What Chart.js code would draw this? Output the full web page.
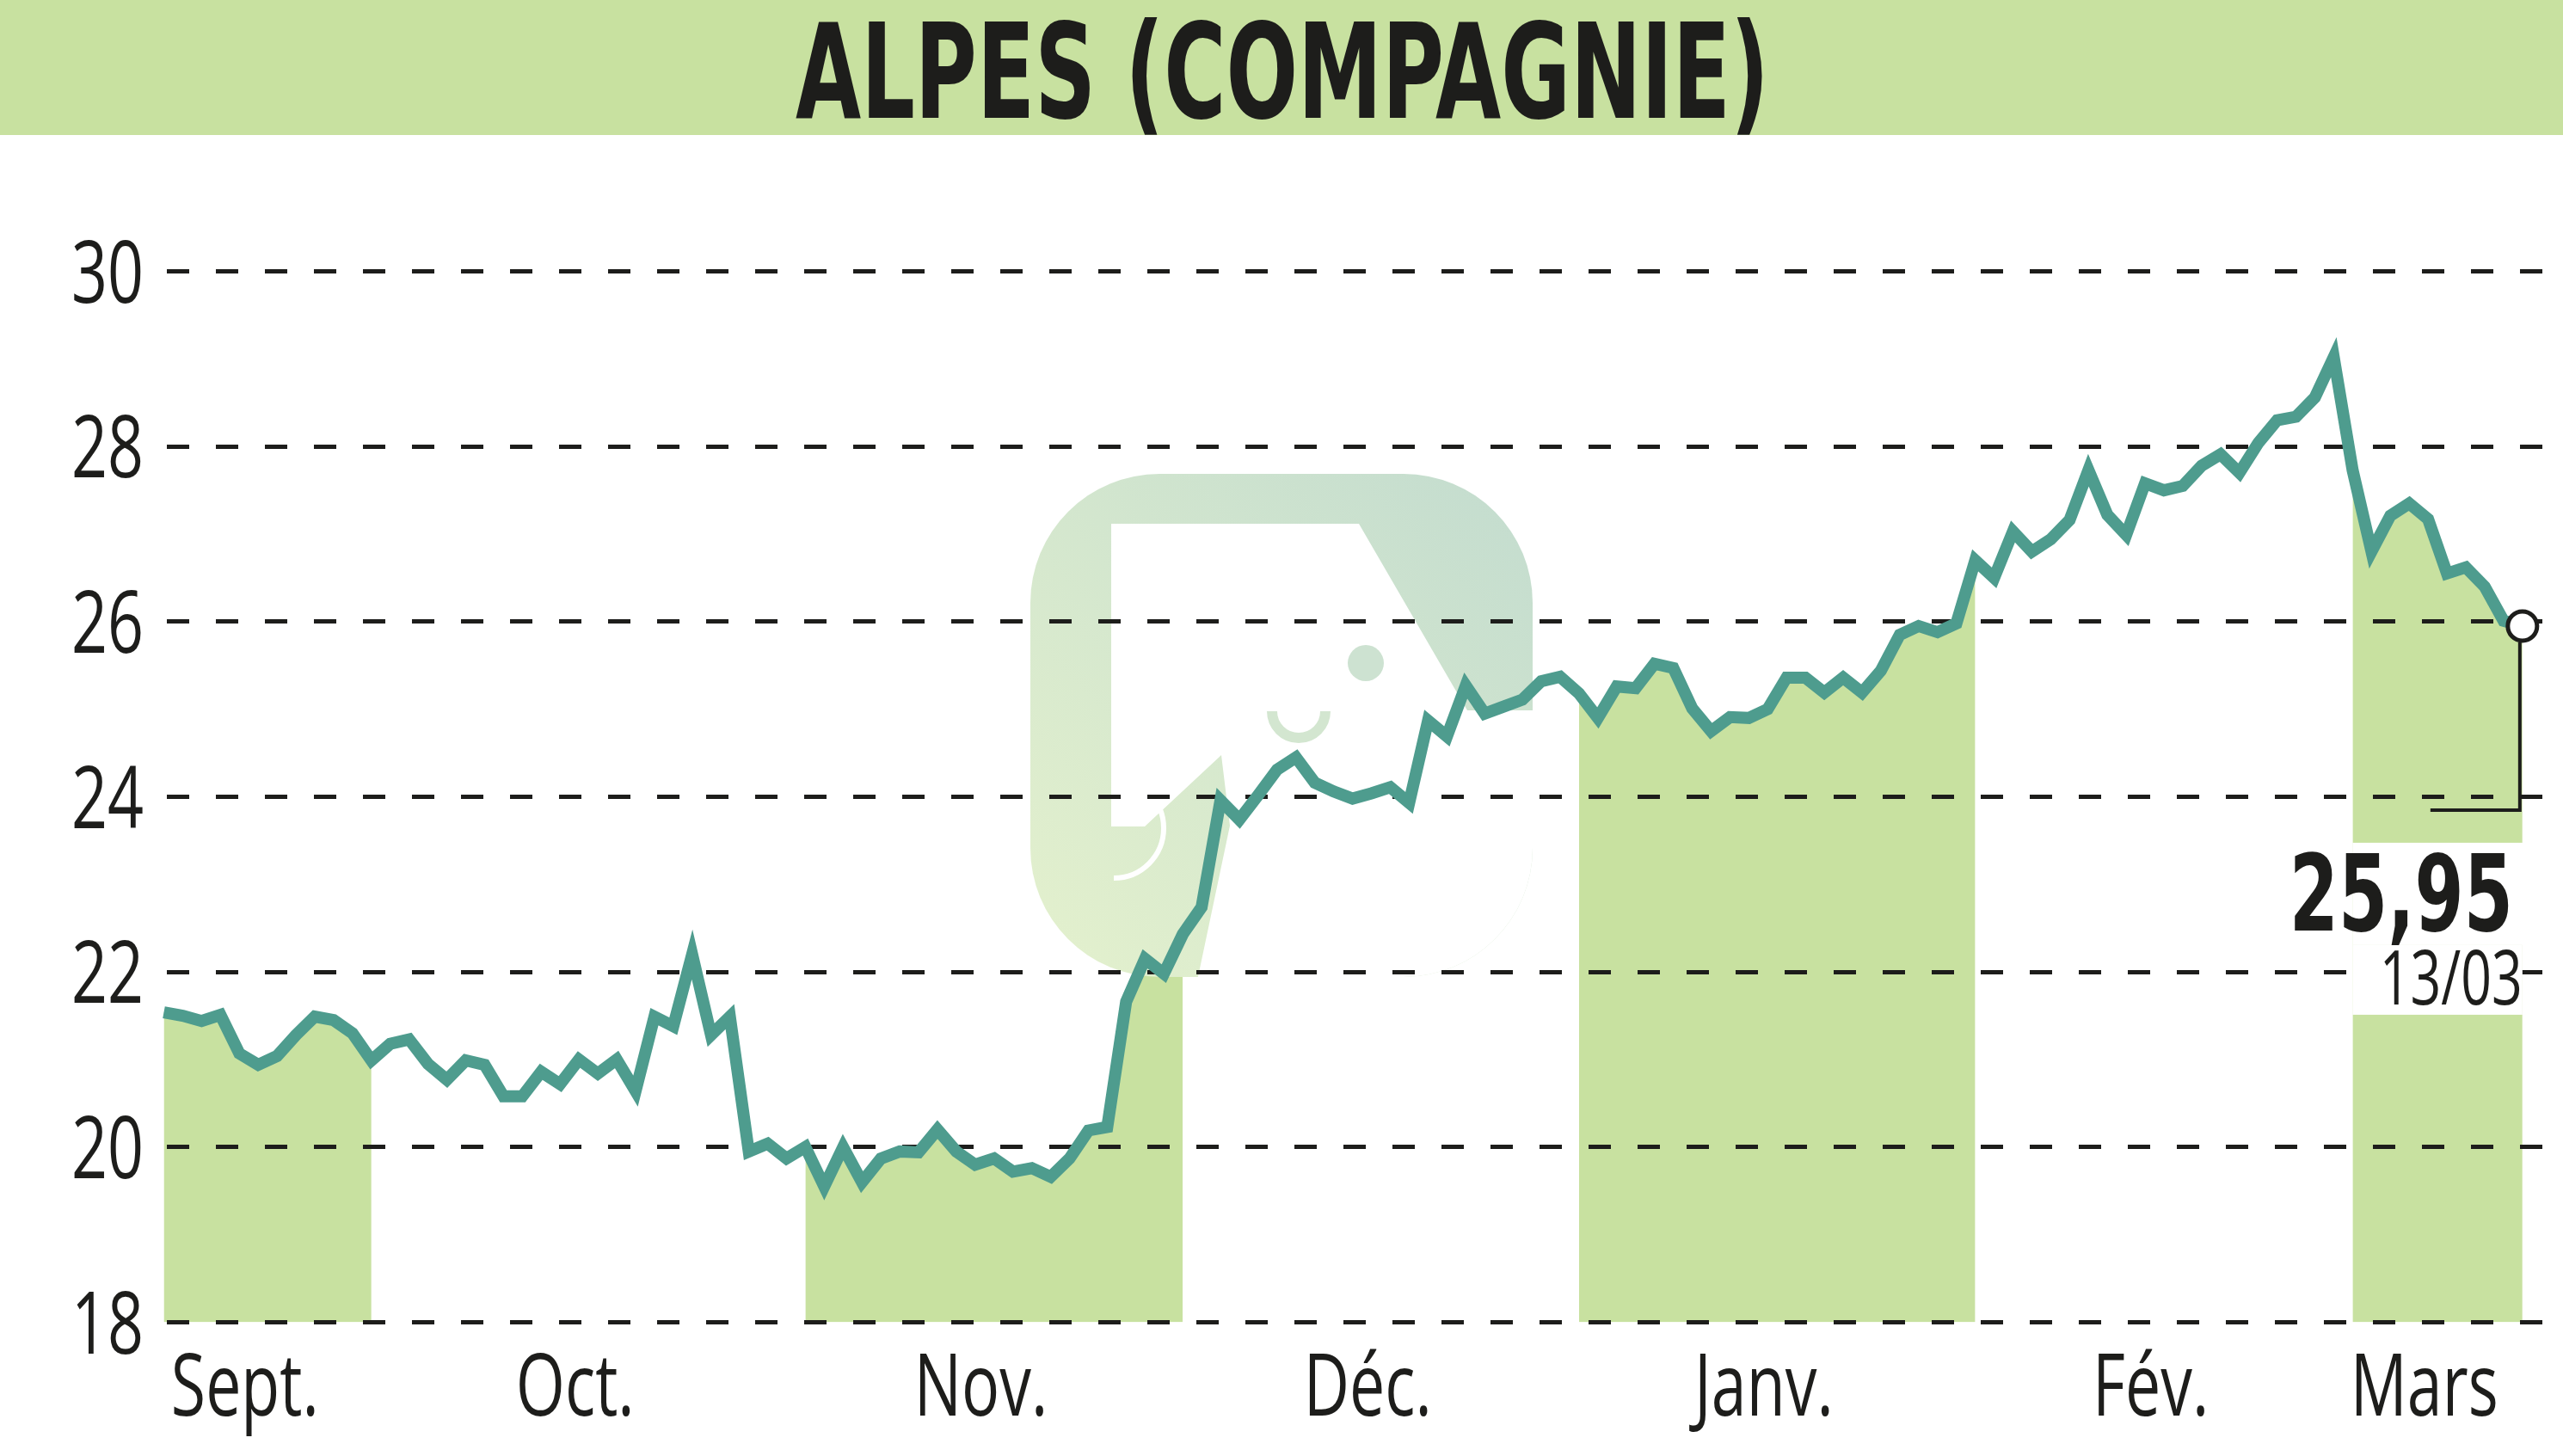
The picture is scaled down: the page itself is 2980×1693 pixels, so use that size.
<!DOCTYPE html>
<html>
<head>
<meta charset="utf-8">
<script src="https://cdn.jsdelivr.net/npm/chart.js@4.4.0/dist/chart.umd.min.js"></script>
<style>
    html, body { margin: 0; padding: 0; background: #fff; }
    canvas { display: block; }
</style>
</head>
<body>
<canvas id="myChart" width="2980" height="1693"></canvas>
<script>
const title = 'ALPES (COMPAGNIE)';
const monthNames = ['Sept.', 'Oct.', 'Nov.', 'Déc.', 'Janv.', 'Fév.', 'Mars'];
const monthDays = [12, 23, 20, 21, 21, 20, 9];
const shadedMonths = [true, false, true, false, true, false, true];
const prices = [
    // Sept.
    21.54, 21.50, 21.44, 21.51, 21.07, 20.94, 21.04, 21.28, 21.49, 21.45, 21.30, 20.99,
    // Oct.
    21.18, 21.23, 20.95, 20.77, 20.99, 20.94, 20.58, 20.58, 20.86, 20.72, 21.00, 20.84,
    21.00, 20.64, 21.49, 21.38, 22.20, 21.28, 21.49, 19.95, 20.04, 19.87, 20.00,
    // Nov.
    19.55, 20.00, 19.60, 19.87, 19.95, 19.94, 20.20, 19.95, 19.80, 19.87, 19.72, 19.76,
    19.66, 19.87, 20.19, 20.23, 21.66, 22.15, 21.98, 22.43,
    // Déc.
    22.74, 23.96, 23.74, 24.02, 24.31, 24.45, 24.16, 24.06, 23.98, 24.04, 24.11, 23.93,
    24.87, 24.69, 25.27, 24.95, 25.03, 25.11, 25.32, 25.37, 25.18,
    // Janv.
    24.90, 25.26, 25.24, 25.52, 25.47, 25.01, 24.75, 24.91, 24.90, 25.00, 25.36, 25.36,
    25.19, 25.36, 25.19, 25.44, 25.85, 25.95, 25.88, 25.98, 26.70,
    // Fév.
    26.50, 27.03, 26.80, 26.94, 27.16, 27.73, 27.22, 26.99, 27.58, 27.50, 27.55, 27.78,
    27.91, 27.70, 28.04, 28.30, 28.34, 28.56, 29.02, 27.73,
    // Mars
    26.80, 27.21, 27.35, 27.17, 26.55, 26.62, 26.40, 26.01, 25.95
];
const yTicks = [18, 20, 22, 24, 26, 28, 30];
const lastPrice = '25,95';
const lastDate = '13/03';

const green = '#c8e1a0';
const teal = '#4e9c8e';
const ink = '#1d1d1b';
const labelFont = '100px "Open Sans"';

// first index of each month, and which month a day belongs to
const monthStart = [];
let count = 0;
monthDays.forEach(d => { monthStart.push(count); count += d; });
function monthOf(i) {
    return monthStart.filter(s => s <= i).length - 1;
}
// month names sit a little left of the middle of each month
const monthTicks = monthStart.map((s, i) => s + (monthDays[i] - 1) / 2 - 1.2);
const last = prices.length - 1;

// narrow type, like the condensed face of the original
function condensedText(c, text, font, x, y, squeeze) {
    c.save();
    c.font = font;
    c.translate(x, y);
    c.scale(squeeze, 1);
    c.fillText(text, 0, 0);
    c.restore();
}
function fitText(c, text, font, x, y, width) {
    c.save();
    c.font = font;
    const w = c.measureText(text).width;
    c.restore();
    condensedText(c, text, font, x, y, width / w);
}

const decor = {
    id: 'decor',
    beforeDraw(chart) {
        const c = chart.ctx;
        c.save();
        // title band
        c.fillStyle = green;
        c.fillRect(0, 0, chart.width, 157);
        c.fillStyle = ink;
        c.textAlign = 'center';
        c.textBaseline = 'alphabetic';
        fitText(c, title, 'bold 154px "DejaVu Sans Condensed", "DejaVu Sans"', 1491, 137, 1132);

        // faint logo behind the curve
        const grad = c.createLinearGradient(1198, 1136, 1782, 551);
        grad.addColorStop(0, '#e4f1cd');
        grad.addColorStop(1, '#c3dccf');
        c.fillStyle = grad;
        c.beginPath();
        c.roundRect(1198, 551, 584, 585, 150);
        c.fill();
        c.clip();
        c.fillStyle = '#fff';
        c.beginPath();
        [[1292, 609], [1580, 609], [1706, 826], [1800, 826], [1800, 1150], [1390, 1150],
         [1430, 960], [1420, 878], [1331, 961], [1292, 961]].forEach((p, i) => {
            if (i === 0) c.moveTo(p[0], p[1]); else c.lineTo(p[0], p[1]);
        });
        c.closePath();
        c.fill();
        c.fillStyle = '#cde2d1';
        c.beginPath();
        c.arc(1588, 771, 21, 0, 2 * Math.PI);
        c.fill();
        c.strokeStyle = '#d3e6d0';
        c.lineWidth = 12;
        c.beginPath();
        c.arc(1510, 827, 31, 0, Math.PI);
        c.stroke();
        c.strokeStyle = '#fff';
        c.lineWidth = 6;
        c.beginPath();
        c.arc(1295, 963, 58, -0.5 * Math.PI, 0.5 * Math.PI);
        c.stroke();
        c.restore();
    },
    afterDraw(chart) {
        const c = chart.ctx;
        const xs = chart.scales.x;
        const ys = chart.scales.y;
        const area = chart.chartArea;
        c.save();
        c.fillStyle = ink;

        // axis labels, squeezed to the width of the original digits
        c.font = labelFont;
        const squeeze = 84 / c.measureText('30').width;
        c.textAlign = 'right';
        c.textBaseline = 'alphabetic';
        ys.ticks.forEach(t => {
            condensedText(c, String(t.value), labelFont, area.left - 18, ys.getPixelForValue(t.value) + 36, squeeze);
        });
        c.textAlign = 'center';
        xs.ticks.forEach((t, i) => {
            condensedText(c, monthNames[i], labelFont, xs.getPixelForValue(t.value), area.bottom + 108, squeeze);
        });

        // last quote: marker leg, cut-outs in the band and the value
        const px = xs.getPixelForValue(last);
        const py = ys.getPixelForValue(prices[last]);
        const bandLeft = xs.getPixelForValue(monthStart[monthStart.length - 1] - 1);
        c.fillStyle = '#fff';
        c.fillRect(bandLeft, py + 252, px + 14 - bandLeft, 119);
        c.fillRect(bandLeft, py + 371, px - bandLeft, 81);
        c.strokeStyle = ink;
        c.lineWidth = 4;
        c.beginPath();
        c.moveTo(px - 3, py + 19);
        c.lineTo(px - 3, py + 214);
        c.lineTo(px - 107, py + 214);
        c.stroke();
        c.fillStyle = ink;
        c.textAlign = 'right';
        fitText(c, lastPrice, 'bold 123px "DejaVu Sans"', px - 11, py + 354, 260);
        fitText(c, lastDate, '88px "Open Sans"', px, py + 440, 166);
        c.restore();
    }
};

const ctx = document.querySelector('#myChart');

const graph = new Chart(ctx, {
    type: 'line',
    data: {
        labels: prices.map((p, i) => i),
        datasets: [{
            label: 'Cours',
            data: prices,
            borderColor: teal,
            borderWidth: 14,
            borderJoinStyle: 'miter',
            tension: 0,
            fill: false,
            pointRadius: c => c.dataIndex === last ? 17 : 0,
            pointHoverRadius: c => c.dataIndex === last ? 17 : 0,
            pointBackgroundColor: '#fff',
            pointBorderColor: ink,
            pointBorderWidth: 5
        }, {
            label: 'Mois',
            data: prices,
            borderWidth: 0,
            pointRadius: 0,
            backgroundColor: green,
            fill: 'start',
            segment: {
                backgroundColor: s => shadedMonths[monthOf(s.p1DataIndex)] ? green : 'rgba(0,0,0,0)'
            }
        }]
    },
    options: {
        responsive: false,
        animation: false,
        events: [],
        layout: { autoPadding: false, padding: { top: 315.5, right: 0, left: 0, bottom: 0 } },
        plugins: {
            legend: { display: false },
            tooltip: { enabled: false },
            filler: { drawTime: 'beforeDraw' }
        },
        scales: {
            x: {
                type: 'linear',
                min: -0.25,
                max: last + 2.15,
                afterFit: s => { s.height = 155.5; },
                afterBuildTicks: s => { s.ticks = monthTicks.map(v => ({ value: v })); },
                grid: { display: false },
                border: { display: false },
                ticks: { display: false }
            },
            y: {
                min: 18,
                max: 30,
                afterFit: s => { s.width = 185; },
                afterBuildTicks: s => { s.ticks = yTicks.map(v => ({ value: v })); },
                grid: { color: ink, lineWidth: 5, drawTicks: false },
                border: { display: false, dash: [26, 31], dashOffset: 48 },
                ticks: { display: false }
            }
        }
    },
    plugins: [decor]
});
</script>
</body>
</html>
